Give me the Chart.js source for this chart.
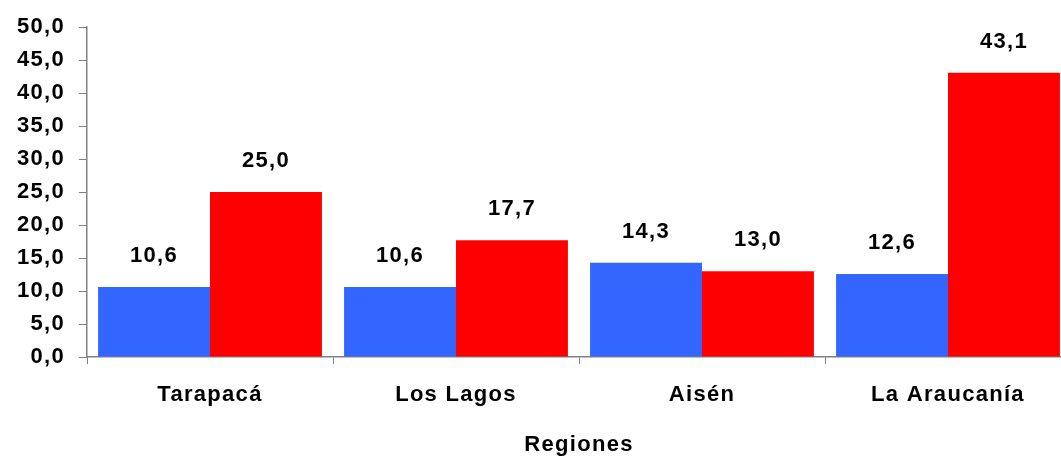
<!DOCTYPE html>
<html>
<head>
<meta charset="utf-8">
<script src="https://cdn.jsdelivr.net/npm/chart.js@4/dist/chart.umd.min.js"></script>
<style>
  html, body { margin: 0; padding: 0; background: #fff; overflow: hidden; }
  body { width: 1061px; height: 458px; }
  /* plot runs a little past the right edge, as in the original */
  #wrap { width: 1071px; height: 458px; }
</style>
</head>
<body>
<div id="wrap"><canvas id="chart"></canvas></div>
<script>
const regions = ["Tarapacá", "Los Lagos", "Aisén", "La Araucanía"];
const blueValues = [10.6, 10.6, 14.3, 12.6];
const redValues = [25.0, 17.7, 13.0, 43.1];
const yTicks = [0, 5, 10, 15, 20, 25, 30, 35, 40, 45, 50];

const fmt = v => v.toFixed(1).replace(".", ",");
const FONT = "'Liberation Sans', Arial, sans-serif";
const axisGray = "#808080";
const textFont = { family: FONT, size: 22, weight: "bold" };

// letter spacing for all canvas text
const spacing = {
  id: "spacing",
  beforeDraw(chart) {
    chart.ctx.letterSpacing = "1.3px";
  }
};

// value labels above bars
const valueLabels = {
  id: "valueLabels",
  afterDatasetsDraw(chart) {
    const ctx = chart.ctx;
    ctx.save();
    ctx.letterSpacing = "1.3px";
    ctx.font = "bold 22px " + FONT;
    ctx.fillStyle = "#000";
    ctx.textAlign = "center";
    ctx.textBaseline = "middle";
    chart.data.datasets.forEach((ds, i) => {
      chart.getDatasetMeta(i).data.forEach((bar, j) => {
        ctx.fillText(fmt(ds.data[j]), bar.x, bar.y - 31);
      });
    });
    ctx.restore();
  }
};

new Chart(document.getElementById("chart"), {
  type: "bar",
  data: {
    labels: regions,
    datasets: [
      { label: "Serie 1", data: blueValues, backgroundColor: "#3366FF", categoryPercentage: 0.91, barPercentage: 1 },
      { label: "Serie 2", data: redValues, backgroundColor: "#FF0000", categoryPercentage: 0.91, barPercentage: 1 }
    ]
  },
  options: {
    responsive: true,
    maintainAspectRatio: false,
    animation: false,
    layout: { padding: { top: 27, right: 0, bottom: 0, left: 0 } },
    plugins: {
      legend: { display: false },
      tooltip: { enabled: false }
    },
    scales: {
      x: {
        grid: { drawOnChartArea: false, offset: true, tickLength: 7, color: axisGray },
        border: { color: axisGray, width: 1.5 },
        ticks: { color: "#000", font: textFont, padding: 18, maxRotation: 0 },
        title: { display: true, text: "Regiones", color: "#000", font: textFont, padding: { top: 10, bottom: 0 } },
        afterFit(scale) { scale.height = 101; }
      },
      y: {
        min: 0,
        max: 50,
        afterBuildTicks(scale) { scale.ticks = yTicks.map(v => ({ value: v })); },
        grid: { drawOnChartArea: false, tickLength: 8, color: axisGray },
        border: { color: axisGray, width: 1.5 },
        ticks: { color: "#000", font: textFont, padding: 14, callback: v => fmt(v) },
        afterFit(scale) { scale.width = 87; }
      }
    }
  },
  plugins: [spacing, valueLabels]
});
</script>
</body>
</html>
